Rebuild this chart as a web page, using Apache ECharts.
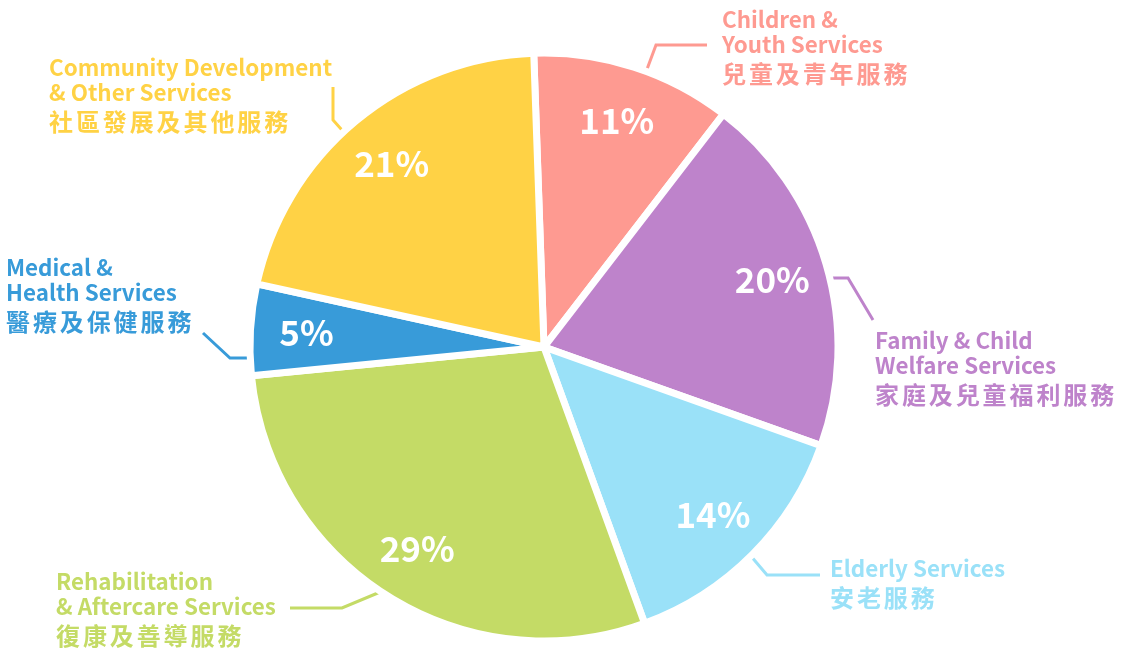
<!DOCTYPE html>
<html>
<head>
<meta charset="utf-8">
<script src="https://cdn.jsdelivr.net/npm/echarts@6/dist/echarts.min.js"></script>
<style>
html,body{margin:0;padding:0;background:#fff;}
#chart{width:1129px;height:655px;}
</style>
</head>
<body>
<div id="chart"></div>
<script>
// ---- data ----
const namesEn = [
  ['Children &', 'Youth Services'],
  ['Family & Child', 'Welfare Services'],
  ['Elderly Services'],
  ['Rehabilitation', '& Aftercare Services'],
  ['Medical &', 'Health Services'],
  ['Community Development', '& Other Services']
];
const namesZh = ['兒童及青年服務', '家庭及兒童福利服務', '安老服務', '復康及善導服務', '醫療及保健服務', '社區發展及其他服務'];
const percents = [11, 20, 14, 29, 5, 21];
const colors = ['#FE9A91', '#BE83CB', '#9AE1F8', '#C4DB66', '#389BD9', '#FFD245'];

// ---- layout (styling only) ----
const labelBoxes = [
  { x: 722, y: 7 },
  { x: 875, y: 328 },
  { x: 830, y: 556 },
  { x: 56, y: 569 },
  { x: 6, y: 255 },
  { x: 49, y: 55 }
];
const leaderLines = [
  [[643, 80], [656, 45], [707, 45]],
  [[826, 278], [848, 278], [873, 320]],
  [[750, 555], [767, 575], [820, 575]],
  [[385, 590], [342, 608], [290, 608]],
  [[256, 358], [230, 358], [203, 333]],
  [[349, 138], [333, 120], [333, 87]]
];

const data = percents.map((v, i) => ({
  value: v,
  name: namesEn[i].join(' '),
  itemStyle: { color: colors[i] },
  label: { color: colors[i] },
  labelLine: { lineStyle: { color: colors[i] } }
}));

function richLabel(i) {
  const en = namesEn[i].map(s => '{en|' + s + '}').join('\n');
  const zh = Array.from(namesZh[i]).map(c => '{zh|' + c + '}').join('');
  return en + '\n' + zh;
}

const chart = echarts.init(document.getElementById('chart'), null, { renderer: 'canvas' });
const FONT = '"Noto Sans CJK TC", "Noto Sans", sans-serif';

chart.setOption({
  animation: false,
  backgroundColor: '#ffffff',
  series: [
    {
      type: 'pie',
      center: [544, 347],
      radius: 294,
      startAngle: 92,
      clockwise: true,
      silent: true,
      data: data,
      itemStyle: { borderColor: '#ffffff', borderWidth: 7 },
      label: {
        show: true,
        position: 'outside',
        formatter: p => richLabel(p.dataIndex),
        rich: {
          en: { fontFamily: FONT, fontWeight: 'bold', fontSize: 22.4, lineHeight: 25 },
          zh: { fontFamily: FONT, fontWeight: 'bold', fontSize: 24, lineHeight: 34, width: 26.9, align: 'left' }
        }
      },
      labelLine: { show: true, lineStyle: { width: 3 }, smooth: false },
      labelLayout: function (params) {
        const i = params.dataIndex;
        return {
          x: labelBoxes[i].x,
          y: labelBoxes[i].y,
          align: 'left',
          verticalAlign: 'top',
          labelLinePoints: leaderLines[i]
        };
      }
    },
    {
      type: 'pie',
      center: [544, 347],
      radius: [180, 290],
      startAngle: 92,
      clockwise: true,
      silent: true,
      data: percents.map((v, i) => ({ value: v, name: namesZh[i] })),
      itemStyle: { color: 'rgba(0,0,0,0)', borderWidth: 0 },
      label: {
        show: true,
        position: 'inside',
        formatter: p => p.value + '%',
        color: '#ffffff',
        fontFamily: FONT,
        fontWeight: 'bold',
        fontSize: 35
      },
      labelLine: { show: false }
    }
  ]
});
</script>
</body>
</html>
